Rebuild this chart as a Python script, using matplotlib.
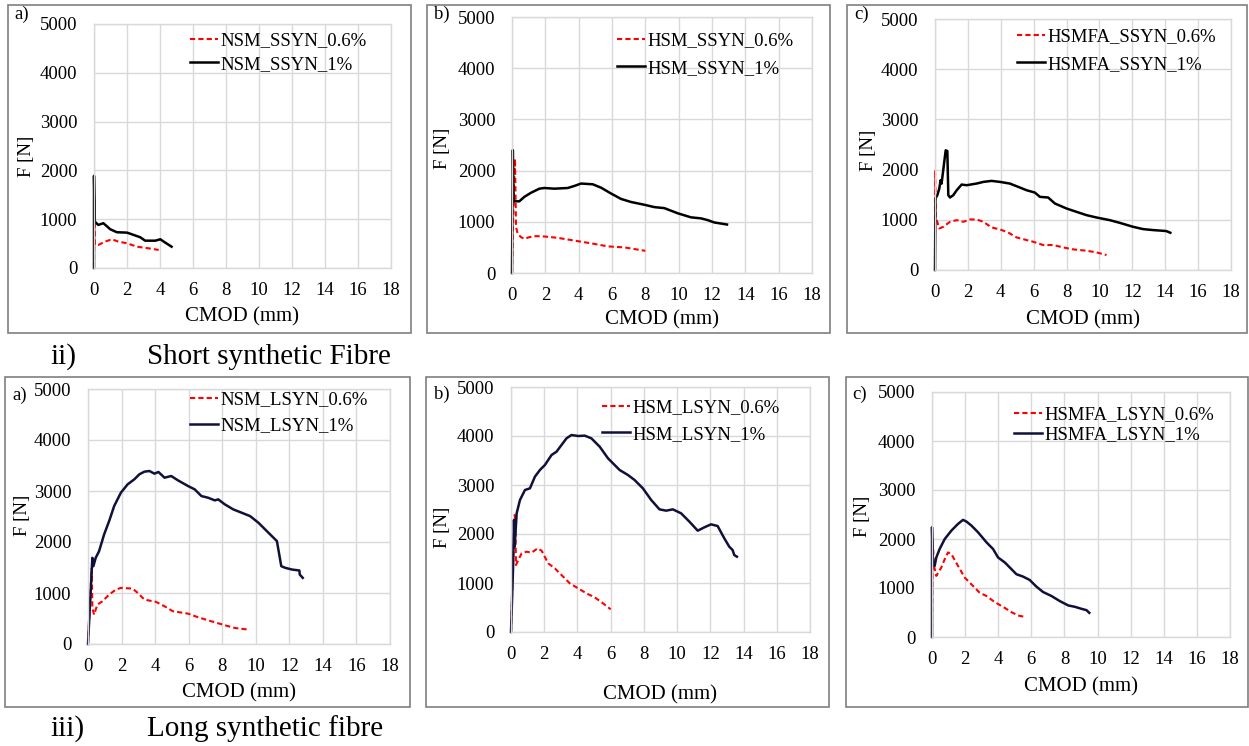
import matplotlib
matplotlib.use("Agg")
import matplotlib.pyplot as plt
from matplotlib.patches import Rectangle

plt.rcParams['font.family'] = ['Liberation Serif', 'DejaVu Serif']

W, H = 1249, 746

# ---------------- data ----------------
x_ticks = [0, 2, 4, 6, 8, 10, 12, 14, 16, 18]
y_ticks = [0, 1000, 2000, 3000, 4000, 5000]

# Short synthetic fibre
nsm_ssyn_06_x = [0, 0.03, 0.06, 0.26, 0.67, 1.08, 1.48, 2.0, 2.6, 3.3, 3.92]
nsm_ssyn_06_y = [0, 1400, 472, 472, 540, 589, 540, 507, 437, 404, 370]
nsm_ssyn_1_x = [0, 0.0, 0.05, 0.26, 0.57, 0.73, 0.98, 1.38, 2.0, 2.4, 2.8, 3.1, 3.72, 4.02, 4.23, 4.7]
nsm_ssyn_1_y = [0, 1890, 950, 883, 918, 870, 795, 733, 725, 678, 630, 560, 560, 589, 540, 437]

hsm_ssyn_06_x = [0, 0.1, 0.18, 0.24, 0.34, 0.54, 0.74, 1.04, 1.44, 1.94, 2.74, 3.74, 4.74, 5.74, 6.74, 8.0]
hsm_ssyn_06_y = [0, 1500, 2230, 900, 767, 700, 667, 700, 720, 713, 687, 633, 580, 520, 500, 433]
hsm_ssyn_1_x = [0, 0.05, 0.1, 0.44, 0.74, 1.14, 1.64, 1.94, 2.54, 3.34, 3.74, 4.14, 4.84, 5.34, 5.94,
                6.54, 7.14, 7.94, 8.54, 9.14, 9.94, 10.74, 11.34, 11.74, 12.14, 12.9]
hsm_ssyn_1_y = [0, 2400, 1400, 1400, 1487, 1567, 1647, 1660, 1647, 1660, 1700, 1747, 1733, 1667, 1553,
                1447, 1387, 1333, 1287, 1267, 1167, 1087, 1067, 1033, 987, 947]

hsmfa_ssyn_06_x = [0, 0.0, 0.06, 0.26, 0.51, 0.91, 1.32, 1.72, 2.13, 2.53, 2.94, 3.44, 3.95, 4.45,
                   4.96, 5.57, 5.97, 6.58, 7.19, 7.79, 8.4, 9.21, 9.82, 10.43]
hsmfa_ssyn_06_y = [0, 1990, 1046, 828, 861, 960, 993, 960, 1007, 1007, 960, 848, 808, 748,
                   649, 596, 563, 497, 497, 450, 411, 384, 351, 298]
hsmfa_ssyn_1_x = [0, 0.03, 0.14, 0.26, 0.34, 0.4, 0.5, 0.65, 0.75, 0.81, 0.91, 1.11, 1.32, 1.62, 1.92,
                  2.53, 2.94, 3.44, 3.95, 4.55, 5.06, 5.57, 6.07, 6.38, 6.88, 7.29, 8.0, 8.6, 9.21,
                  9.82, 10.63, 11.23, 12.04, 12.65, 13.26, 13.87, 14.07, 14.31]
hsmfa_ssyn_1_y = [0, 1424, 1490, 1620, 1788, 1722, 1987, 2384, 2370, 1490, 1444, 1490, 1589, 1702, 1689,
                  1722, 1755, 1775, 1755, 1722, 1656, 1589, 1543, 1457, 1444, 1325, 1225, 1159, 1093,
                  1046, 993, 940, 861, 815, 795, 781, 775, 742]

# Long synthetic fibre
nsm_lsyn_06_x = [0, 0.22, 0.26, 0.36, 0.56, 0.86, 1.26, 1.66, 1.96, 2.66, 2.96, 3.36, 4.06, 4.56,
                 5.06, 5.96, 6.56, 7.36, 8.16, 8.76, 9.56]
nsm_lsyn_06_y = [0, 1480, 707, 576, 773, 838, 969, 1067, 1100, 1087, 1002, 871, 825, 740,
                 642, 596, 524, 445, 367, 314, 282]
nsm_lsyn_1_x = [0, 0.26, 0.32, 0.46, 0.66, 0.96, 1.26, 1.56, 1.96, 2.36, 2.76, 3.06, 3.36, 3.66, 3.96,
                4.2, 4.56, 4.96, 5.36, 5.96, 6.36, 6.76, 7.16, 7.56, 7.76, 8.16, 8.66, 9.16, 9.66,
                10.16, 10.66, 11.16, 11.26, 11.52, 11.76, 12.16, 12.6, 12.62, 12.8]
nsm_lsyn_1_y = [0, 1690, 1526, 1690, 1820, 2148, 2410, 2705, 2967, 3130, 3229, 3327, 3379, 3392, 3340,
                3373, 3261, 3294, 3209, 3098, 3032, 2901, 2868, 2816, 2836, 2737, 2639, 2574, 2508,
                2377, 2213, 2050, 2017, 1526, 1493, 1460, 1441, 1362, 1297]

hsm_lsyn_06_x = [0, 0.08, 0.22, 0.26, 0.3, 0.44, 0.64, 0.94, 1.24, 1.6, 1.84, 2.24, 2.64, 3.04,
                 3.54, 4.04, 4.54, 5.04, 5.54, 6.0]
hsm_lsyn_06_y = [0, 925, 2388, 2286, 1367, 1469, 1605, 1639, 1619, 1707, 1660, 1401, 1299, 1163,
                 993, 891, 789, 707, 585, 463]
hsm_lsyn_1_x = [0, 0.12, 0.18, 0.22, 0.34, 0.54, 0.84, 1.14, 1.44, 1.74, 2.04, 2.44, 2.74, 3.04, 3.34,
                3.64, 4.04, 4.44, 4.84, 5.34, 5.84, 6.54, 7.04, 7.44, 7.94, 8.44, 8.94, 9.34, 9.74,
                10.24, 10.74, 11.24, 11.64, 12.04, 12.44, 12.84, 13.14, 13.34, 13.44, 13.6]
hsm_lsyn_1_y = [0, 1265, 2286, 1735, 2422, 2694, 2898, 2932, 3170, 3306, 3408, 3612, 3680, 3816, 3952,
                4020, 4000, 4007, 3952, 3782, 3544, 3306, 3204, 3102, 2932, 2694, 2503, 2476, 2503,
                2422, 2252, 2068, 2136, 2197, 2163, 1912, 1741, 1673, 1571, 1537]

hsmfa_lsyn_06_x = [0, 0.04, 0.12, 0.26, 0.56, 0.77, 0.97, 1.17, 1.57, 1.98, 2.38, 2.88, 3.29, 3.79,
                   4.29, 4.8, 5.2, 5.6]
hsmfa_lsyn_06_y = [0, 2000, 1452, 1247, 1418, 1589, 1726, 1692, 1452, 1212, 1075, 904, 836, 712,
                   616, 507, 438, 411]
hsmfa_lsyn_1_x = [0, 0.0, 0.06, 0.16, 0.26, 0.46, 0.77, 1.17, 1.57, 1.87, 2.08, 2.38, 2.78, 3.29, 3.69,
                  3.99, 4.4, 4.8, 5.1, 5.5, 5.9, 6.31, 6.71, 7.22, 7.72, 8.23, 8.63, 9.03, 9.33, 9.5]
hsmfa_lsyn_1_y = [0, 2240, 1486, 1452, 1623, 1795, 2000, 2171, 2308, 2390, 2356, 2274, 2137, 1932, 1795,
                  1623, 1521, 1384, 1281, 1233, 1164, 1027, 918, 836, 733, 644, 616, 575, 548, 493]

# ---------------- layout helpers ----------------
def fx(px):
    return px / W

def fy(py):
    return 1 - py / H

fig = plt.figure(figsize=(W / 100, H / 100), dpi=100)
fig.patch.set_facecolor('white')

GRID = '#d9d9d9'
RED = '#ff0000'

panels = [
    dict(frame=(8, 5, 411, 333), ax=(94, 24, 391, 268), tag='a)', tagpos=(14, 14), ylab=(26, 156),
         xlab=(242, 317), leg=(190, 32), pitch=0.36,
         s06=(nsm_ssyn_06_x, nsm_ssyn_06_y, 'NSM_SSYN_0.6%'),
         s1=(nsm_ssyn_1_x, nsm_ssyn_1_y, 'NSM_SSYN_1%'), c1='black'),
    dict(frame=(427, 5, 830, 333), ax=(512, 17, 812, 273), tag='b)', tagpos=(434, 14), ylab=(443, 148),
         xlab=(662, 320), leg=(617, 32), pitch=0.57,
         s06=(hsm_ssyn_06_x, hsm_ssyn_06_y, 'HSM_SSYN_0.6%'),
         s1=(hsm_ssyn_1_x, hsm_ssyn_1_y, 'HSM_SSYN_1%'), c1='black'),
    dict(frame=(847, 5, 1247, 333), ax=(935, 19, 1231, 270), tag='c)', tagpos=(854, 14), ylab=(868, 150),
         xlab=(1083, 320), leg=(1017, 28), pitch=0.57,
         s06=(hsmfa_ssyn_06_x, hsmfa_ssyn_06_y, 'HSMFA_SSYN_0.6%'),
         s1=(hsmfa_ssyn_1_x, hsmfa_ssyn_1_y, 'HSMFA_SSYN_1%'), c1='black'),
    dict(frame=(5, 377, 410, 707), ax=(88, 389, 390, 644), tag='a)', tagpos=(12, 395), ylab=(22, 515),
         xlab=(239, 693), leg=(190, 391), pitch=0.47,
         s06=(nsm_lsyn_06_x, nsm_lsyn_06_y, 'NSM_LSYN_0.6%'),
         s1=(nsm_lsyn_1_x, nsm_lsyn_1_y, 'NSM_LSYN_1%'), c1='#10103a'),
    dict(frame=(426, 377, 829, 707), ax=(511, 387, 810, 632), tag='b)', tagpos=(434, 394), ylab=(442, 527),
         xlab=(660, 695), leg=(602, 399), pitch=0.51,
         s06=(hsm_lsyn_06_x, hsm_lsyn_06_y, 'HSM_LSYN_0.6%'),
         s1=(hsm_lsyn_1_x, hsm_lsyn_1_y, 'HSM_LSYN_1%'), c1='#10103a'),
    dict(frame=(846, 377, 1248, 707), ax=(932, 392, 1230, 637), tag='c)', tagpos=(852, 394), ylab=(862, 516),
         xlab=(1081, 687), leg=(1014, 406), pitch=0.15,
         s06=(hsmfa_lsyn_06_x, hsmfa_lsyn_06_y, 'HSMFA_LSYN_0.6%'),
         s1=(hsmfa_lsyn_1_x, hsmfa_lsyn_1_y, 'HSMFA_LSYN_1%'), c1='#10103a'),
]

for p in panels:
    l, t, r, b = p['frame']
    fig.patches.append(Rectangle((fx(l), fy(b)), (r - l) / W, (b - t) / H, transform=fig.transFigure,
                                 fill=False, edgecolor='#7f7f7f', linewidth=1.2))
    al, at, ar, ab = p['ax']
    ax = fig.add_axes([fx(al), fy(ab), (ar - al) / W, (ab - at) / H])
    ax.set_xlim(0, 18)
    ax.set_ylim(0, 5000)
    ax.set_xticks(x_ticks)
    ax.set_yticks(y_ticks)
    ax.grid(True, color=GRID, linewidth=1.0)
    ax.set_axisbelow(True)
    for sp in ax.spines.values():
        sp.set_color(GRID)
        sp.set_linewidth(1.0)
    ax.tick_params(length=0, labelsize=13.5, colors='black')
    ax.tick_params(axis='y', pad=12)
    ax.tick_params(axis='x', pad=10)
    x06, y06, lab06 = p['s06']
    x1, y1, lab1 = p['s1']
    ax.plot(x06, y06, color=RED, linewidth=1.5, linestyle=(0, (2.5, 1.5)), label=lab06, clip_on=False)
    ax.plot(x1, y1, color=p['c1'], linewidth=1.8, label=lab1, clip_on=False)
    lx, ly = p['leg']
    ax.legend(loc='upper left', bbox_to_anchor=(fx(lx), fy(ly)), bbox_transform=fig.transFigure,
              frameon=False, fontsize=13.5, handlelength=1.5, handletextpad=0.1,
              borderpad=0, borderaxespad=0, labelspacing=p['pitch'])
    tx, ty = p['tagpos']
    fig.text(fx(tx), fy(ty), p['tag'], fontsize=13.5, ha='left', va='center')
    yx, yy = p['ylab']
    fig.text(fx(yx), fy(yy), 'F [N]', fontsize=13.5, rotation=90, ha='center', va='center')
    xx, xy = p['xlab']
    fig.text(fx(xx), fy(xy), 'CMOD (mm)', fontsize=15, ha='center', va='center')

fig.text(fx(50), fy(357), 'ii)', fontsize=21, ha='left', va='center')
fig.text(fx(147), fy(357), 'Short synthetic Fibre', fontsize=21, ha='left', va='center')
fig.text(fx(50), fy(729), 'iii)', fontsize=21, ha='left', va='center')
fig.text(fx(147), fy(729), 'Long synthetic fibre', fontsize=21, ha='left', va='center')

fig.savefig('out.png', dpi=100, facecolor='white')
